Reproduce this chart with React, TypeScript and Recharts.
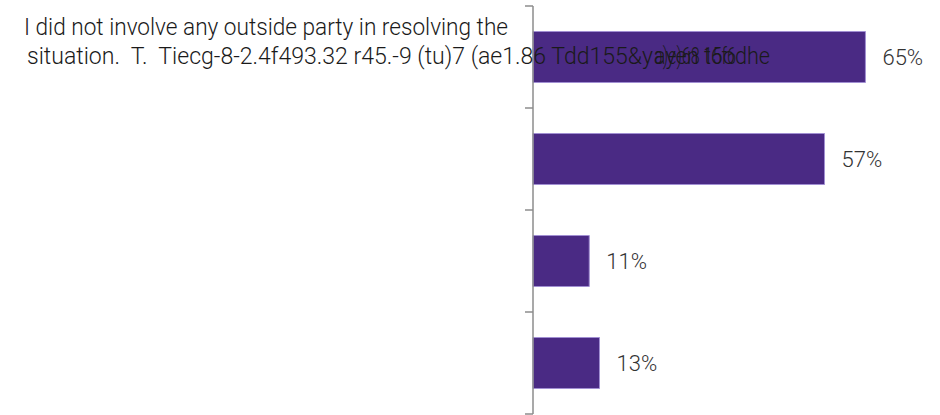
import React from "react";
import { BarChart, Bar, XAxis, YAxis, LabelList } from "recharts";

// Row ids (only the first row carries a label in the source)
const categories = ["row1", "row2", "row3", "row4"];
const values = [65, 57, 11, 13];
const labelLine1 = "I did not involve any outside party in resolving the";
const labelLine2 = "situation.  T.  Tiecg-8-2.4f493.32 r45.-9 (tu)7 (ae1.86 Tdd155&y";
const labelOverlapA = "a)e)68 15f6";
const labelOverlapB = "ayen t6odhe";

const data = categories.map((c, i) => ({ name: c, value: values[i] }));

const W = 940;
const H = 415;
const MARGIN = { top: 6, right: 49, bottom: 1, left: 0 };
const AXIS_W = 533;
const BAND = (H - MARGIN.top - MARGIN.bottom) / categories.length;
const FONT = "Roboto, 'Noto Sans', sans-serif";

const Tick = (props: any) => {
  const { x, y, index } = props;
  const top = y - BAND / 2;
  const bottom = y + BAND / 2;
  const left = x - AXIS_W;
  return (
    <g>
      <line x1={x - 8} x2={x} y1={top} y2={top} stroke="#8c8c8c" strokeWidth={1.5} />
      {index === categories.length - 1 && (
        <line x1={x - 8} x2={x} y1={bottom} y2={bottom} stroke="#8c8c8c" strokeWidth={1.5} />
      )}
      {index === 0 && (
        <g fontFamily={FONT} fontWeight={300} fontSize={24} fill="#1a1a1a">
          <text x={left + 24} y={top + 29} textLength={484} lengthAdjust="spacingAndGlyphs" xmlSpace="preserve">
            {labelLine1}
          </text>
          <text x={left + 27} y={top + 58} textLength={626} lengthAdjust="spacingAndGlyphs" xmlSpace="preserve">
            {labelLine2}
          </text>
          <text x={left + 654} y={top + 58} textLength={82} lengthAdjust="spacingAndGlyphs" xmlSpace="preserve">
            {labelOverlapA}
          </text>
          <text x={left + 654} y={top + 58} textLength={116} lengthAdjust="spacingAndGlyphs" xmlSpace="preserve">
            {labelOverlapB}
          </text>
        </g>
      )}
    </g>
  );
};

export default function App() {
  return (
    <div style={{ position: "absolute", left: 0, top: 0, width: W, height: H, background: "#fff" }}>
      <BarChart
        width={W}
        height={H}
        data={data}
        layout="vertical"
        margin={MARGIN}
        barCategoryGap="25%"
      >
        <XAxis type="number" domain={[0, 70]} hide />
        <YAxis
          type="category"
          dataKey="name"
          width={AXIS_W}
          axisLine={{ stroke: "#8c8c8c", strokeWidth: 1.5 }}
          tickLine={false}
          tickSize={0}
          tickMargin={0}
          tick={<Tick />}
          interval={0}
        />
        <Bar dataKey="value" fill="#4a2a84" stroke="#a18fd2" strokeWidth={1} isAnimationActive={false}>
          <LabelList
            dataKey="value"
            position="right"
            offset={17}
            formatter={(v: any) => `${v}%`}
            fill="#333"
            fontSize={22}
            fontFamily={FONT}
            fontWeight={300}
          />
        </Bar>
      </BarChart>
    </div>
  );
}
